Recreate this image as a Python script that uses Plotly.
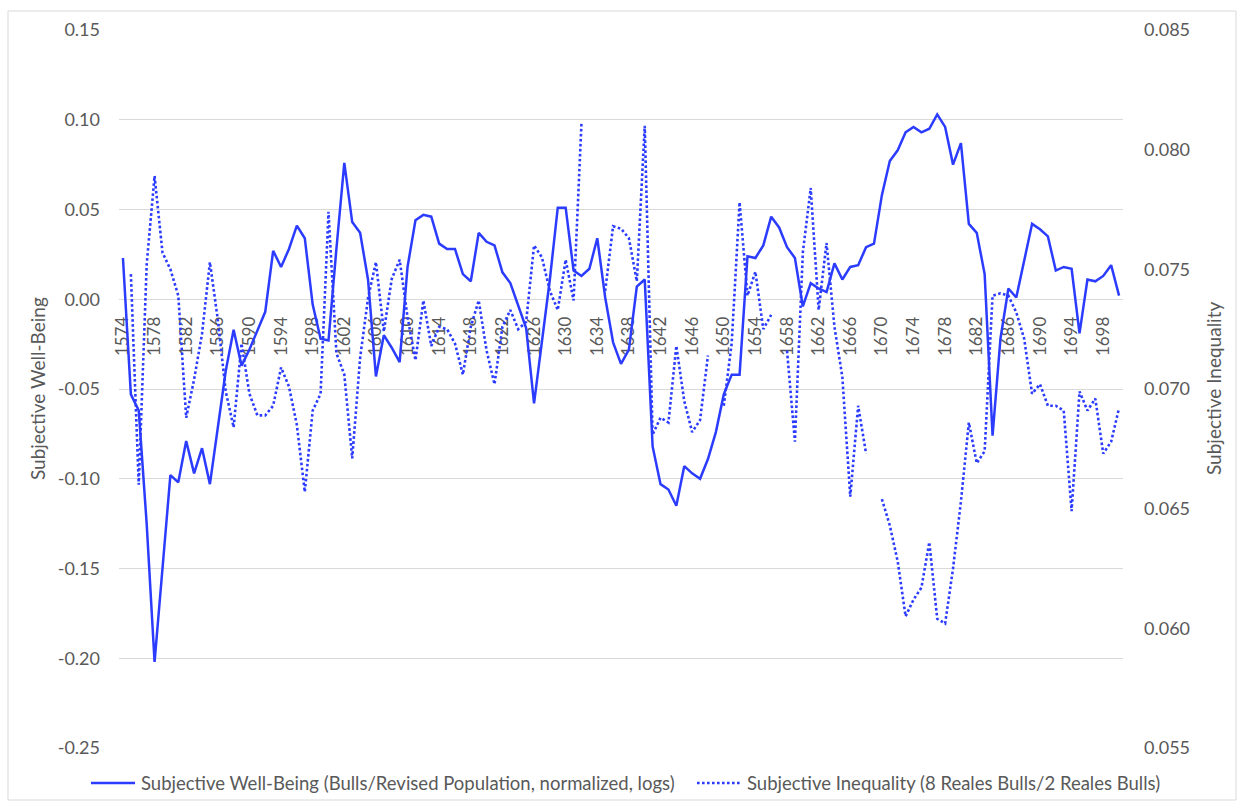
import plotly.graph_objects as go

years = list(range(1574, 1701))

swb = [
    0.023, -0.053, -0.062, -0.125, -0.202, -0.150, -0.098, -0.102, -0.079, -0.097,
    -0.083, -0.103, -0.070, -0.040, -0.017, -0.037, -0.028, -0.017, -0.007, 0.027,
    0.018, 0.028, 0.041, 0.034, -0.003, -0.022, -0.023, 0.028, 0.076, 0.043,
    0.037, 0.011, -0.043, -0.020, -0.027, -0.035, 0.018, 0.044, 0.047, 0.046,
    0.031, 0.028, 0.028, 0.014, 0.010, 0.037, 0.032, 0.030, 0.015, 0.009,
    -0.004, -0.016, -0.058, -0.025, 0.011, 0.051, 0.051, 0.016, 0.013, 0.017,
    0.034, 0.001, -0.024, -0.036, -0.028, 0.007, 0.011, -0.082, -0.103, -0.106,
    -0.115, -0.093, -0.097, -0.100, -0.089, -0.074, -0.053, -0.042, -0.042, 0.024,
    0.023, 0.030, 0.046, 0.040, 0.029, 0.023, -0.004, 0.009, 0.006, 0.004,
    0.020, 0.011, 0.018, 0.019, 0.029, 0.031, 0.058, 0.077, 0.083, 0.093,
    0.096, 0.093, 0.095, 0.103, 0.096, 0.075, 0.087, 0.042, 0.037, 0.014,
    -0.076, -0.022, 0.006, 0.001, 0.021, 0.042, 0.039, 0.035, 0.016, 0.018,
    0.017, -0.019, 0.011, 0.010, 0.013, 0.019, 0.002,
]

inequality = [
    None, 0.0748, 0.0660, 0.0752, 0.0789, 0.0757, 0.0750, 0.0739, 0.0688, 0.0704,
    0.0723, 0.0753, 0.0729, 0.0699, 0.0684, 0.0719, 0.0698, 0.0689, 0.0689, 0.0693,
    0.0709, 0.0701, 0.0685, 0.0657, 0.0691, 0.0698, 0.0774, 0.0715, 0.0706, 0.0671,
    0.0713, 0.0738, 0.0753, 0.0724, 0.0746, 0.0754, 0.0730, 0.0712, 0.0737, 0.0718,
    0.0726, 0.0725, 0.0719, 0.0706, 0.0726, 0.0737, 0.0716, 0.0702, 0.0726, 0.0733,
    0.0725, 0.0728, 0.0760, 0.0755, 0.0741, 0.0733, 0.0754, 0.0737, 0.0811, None,
    None, 0.0741, 0.0768, 0.0767, 0.0763, 0.0745, 0.0810, 0.0681, 0.0688, 0.0686,
    0.0718, 0.0695, 0.0682, 0.0687, 0.0714, None, 0.0693, 0.0719, 0.0778, 0.0739,
    0.0749, 0.0725, 0.0731, None, 0.0716, 0.0678, 0.0757, 0.0784, 0.0733, 0.0761,
    0.0726, 0.0705, 0.0655, 0.0693, 0.0673, None, 0.0654, 0.0643, 0.0628, 0.0605,
    0.0612, 0.0617, 0.0636, 0.0604, 0.0602, 0.0625, 0.0653, 0.0686, 0.0669, 0.0674,
    0.0739, 0.0740, 0.0739, 0.0732, 0.0721, 0.0698, 0.0702, 0.0693, 0.0693, 0.0691,
    0.0649, 0.0699, 0.0691, 0.0696, 0.0673, 0.0678, 0.0692,
]

year_ticks = list(range(1574, 1700, 4))
year_tick_labels = [str(y) for y in year_ticks]

left_ticks = [-0.25, -0.20, -0.15, -0.10, -0.05, 0.00, 0.05, 0.10, 0.15]
left_tick_labels = ["-0.25", "-0.20", "-0.15", "-0.10", "-0.05", "0.00", "0.05", "0.10", "0.15"]
right_ticks = [0.055, 0.060, 0.065, 0.070, 0.075, 0.080, 0.085]
right_tick_labels = ["0.055", "0.060", "0.065", "0.070", "0.075", "0.080", "0.085"]

name_swb = "Subjective Well-Being (Bulls/Revised Population, normalized, logs)"
name_ineq = "Subjective Inequality (8 Reales Bulls/2 Reales Bulls)"

BLUE = "#2b3cff"
GREY = "#595959"
FONT = "Lato"
DOT = "2.6px,2.4px"

fig = go.Figure()
fig.add_trace(go.Scatter(
    x=years, y=swb, mode="lines", name=name_swb,
    line=dict(color=BLUE, width=2.5), yaxis="y",
))
fig.add_trace(go.Scatter(
    x=years, y=inequality, mode="lines", name=name_ineq,
    line=dict(color=BLUE, width=2.6, dash=DOT), yaxis="y2",
    connectgaps=False,
))

W, H = 1242, 807
ml, mr, mt, mb = 119, 119, 30, 59
pw, ph = W - ml - mr, H - mt - mb


def px_x(x):
    return (x - ml) / pw


def px_y(y):
    return (H - mb - y) / ph


legend_font = dict(family=FONT, size=18.5, color=GREY)
LEG_Y = 783

fig.update_layout(
    width=W, height=H, autosize=False,
    margin=dict(l=ml, r=mr, t=mt, b=mb, pad=0),
    paper_bgcolor="white", plot_bgcolor="white",
    font=dict(family=FONT, color=GREY, size=17),
    showlegend=False,
    xaxis=dict(
        range=[1573.5, 1700.5],
        tickmode="array", tickvals=year_ticks, ticktext=year_tick_labels,
        tickangle=-90, anchor="free", position=0.625,
        showgrid=False, zeroline=False, showline=False, ticks="",
        tickfont=dict(family=FONT, size=17, color=GREY),
        layer="below traces", ticklabelstandoff=13,
    ),
    yaxis=dict(
        range=[-0.25, 0.15],
        tickmode="array", tickvals=left_ticks, ticktext=left_tick_labels,
        showgrid=True, gridcolor="#d9d9d9", gridwidth=1,
        zeroline=False, showline=False, ticks="",
        tickfont=dict(family=FONT, size=18, color=GREY),
        ticklabelstandoff=18,
    ),
    yaxis2=dict(
        range=[0.055, 0.085], overlaying="y", side="right",
        tickmode="array", tickvals=right_ticks, ticktext=right_tick_labels,
        showgrid=False, zeroline=False, showline=False, ticks="",
        tickfont=dict(family=FONT, size=18, color=GREY),
        ticklabelstandoff=20,
    ),
    annotations=[
        dict(text="Subjective Well-Being", textangle=-90, xref="paper", yref="paper",
             x=px_x(37), y=0.5, xanchor="center", yanchor="middle", showarrow=False,
             font=dict(family=FONT, size=19, color=GREY)),
        dict(text="Subjective Inequality", textangle=-90, xref="paper", yref="paper",
             x=px_x(1213), y=0.5, xanchor="center", yanchor="middle", showarrow=False,
             font=dict(family=FONT, size=19, color=GREY)),
        # legend entries
        dict(text=name_swb, xref="paper", yref="paper",
             x=px_x(139), y=px_y(LEG_Y), xanchor="left", yanchor="middle",
             showarrow=False, font=legend_font),
        dict(text=name_ineq, xref="paper", yref="paper",
             x=px_x(745), y=px_y(LEG_Y), xanchor="left", yanchor="middle",
             showarrow=False, font=legend_font),
    ],
    shapes=[
        dict(type="rect", xref="paper", yref="paper",
             x0=px_x(8), x1=px_x(1236), y0=px_y(800), y1=px_y(11),
             line=dict(color="#d9d9d9", width=1), fillcolor="rgba(0,0,0,0)", layer="below"),
        # legend samples
        dict(type="line", xref="paper", yref="paper",
             x0=px_x(91), x1=px_x(135), y0=px_y(LEG_Y), y1=px_y(LEG_Y),
             line=dict(color=BLUE, width=2.5)),
        dict(type="line", xref="paper", yref="paper",
             x0=px_x(697), x1=px_x(741), y0=px_y(LEG_Y), y1=px_y(LEG_Y),
             line=dict(color=BLUE, width=2.6, dash=DOT)),
    ],
)

fig.write_html("out.html", post_script="document.body.style.margin='0';",
               config={"displayModeBar": False})
